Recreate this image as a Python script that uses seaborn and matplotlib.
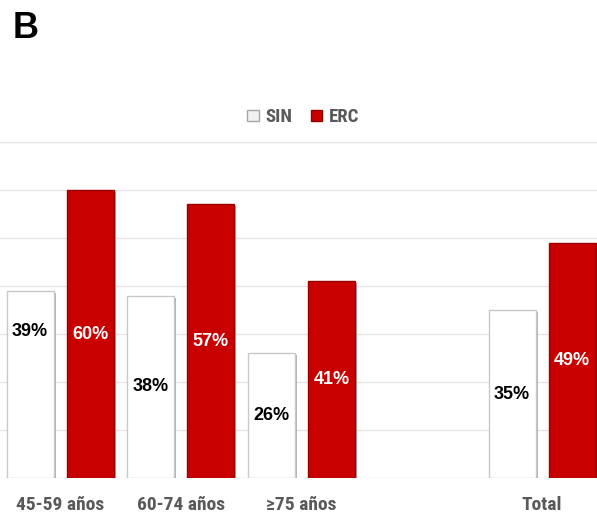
import matplotlib
matplotlib.use("Agg")
import matplotlib.pyplot as plt
import matplotlib.patheffects as pe
from matplotlib.patches import Patch
from matplotlib import font_manager
import pandas as pd
import seaborn as sns

# data
categories = ["45-59 años", "60-74 años", "≥75 años", "Total"]
groups = ["SIN", "ERC"]
sin_values = [39, 38, 26, 35]
erc_values = [60, 57, 41, 49]

colors = {"SIN": "#ffffff", "ERC": "#c80000"}
edges = {"SIN": "#c8c8c8", "ERC": "#9a0000"}
text_gray = "#595959"

installed = {f.name for f in font_manager.fontManager.ttflist}
narrow = [f for f in ["Roboto Condensed", "Liberation Sans Narrow", "Roboto"] if f in installed] + ["DejaVu Sans"]
regular = ["Liberation Sans", "DejaVu Sans"]

df = pd.DataFrame({
    "edad": categories * 2,
    "grupo": ["SIN"] * len(categories) + ["ERC"] * len(categories),
    "valor": sin_values + erc_values,
})
# blank slot between the age groups and the total
order = categories[:3] + [" "] + categories[3:]

sns.set_theme(style="white")
plt.rcParams["font.family"] = regular

fig = plt.figure(figsize=(5.97, 5.16), dpi=100)
ax = fig.add_axes([0, 0.0736, 1, 0.6512])

sns.barplot(data=df, x="edad", y="valor", hue="grupo", order=order,
            hue_order=groups, palette=colors, width=1.0, gap=0.22,
            saturation=1, legend=False, ax=ax)

shadow = [pe.SimplePatchShadow(offset=(1.5, -1.5), shadow_rgbFace="#808080", alpha=0.6), pe.Normal()]
for cont, g in zip(ax.containers, groups):
    for bar in cont:
        bar.set_edgecolor(edges[g])
        bar.set_linewidth(1)
        bar.set_path_effects(shadow)
        h = bar.get_height()
        if h != h or h == 0:
            continue
        # the 39% label sits higher in the original
        y = h / 2 + (11 if (g == "SIN" and bar.get_x() < 0) else 0)
        ax.text(bar.get_x() + bar.get_width() / 2, y, f"{int(round(h))}%",
                ha="center", va="center", fontsize=13, fontweight="bold",
                color="black" if g == "SIN" else "white")

ax.set_xlim(-0.5, 4.455)
ax.set_ylim(0, 70)
ax.set_yticks(range(0, 71, 10))
ax.set_yticklabels([])
ax.yaxis.grid(True, color="#e4e4e4", linewidth=1)
ax.set_axisbelow(True)
ax.tick_params(axis="y", length=0)
ax.tick_params(axis="x", length=0, pad=13)
for lab in ax.get_xticklabels():
    lab.set_family(narrow)
    lab.set_fontweight("bold")
    lab.set_fontsize(14)
    lab.set_color(text_gray)
ax.set_xlabel("")
ax.set_ylabel("")
for s in ax.spines.values():
    s.set_visible(False)

handles = [Patch(facecolor="#f2f2f2" if g == "SIN" else colors[g],
                 edgecolor="#a6a6a6" if g == "SIN" else "#8a0000") for g in groups]
fig.legend(handles, groups, loc="center", bbox_to_anchor=(0.508, 0.773), ncol=2,
           frameon=False, handlelength=0.6, handleheight=0.6, handletextpad=0.35,
           columnspacing=1.0, labelcolor=text_gray,
           prop={"family": narrow, "weight": "bold", "size": 13.5})

fig.text(13 / 597, 1 - 38 / 516, "B", fontsize=26, fontweight="bold",
         ha="left", va="baseline", color="black")

fig.savefig("out.png", dpi=100)
